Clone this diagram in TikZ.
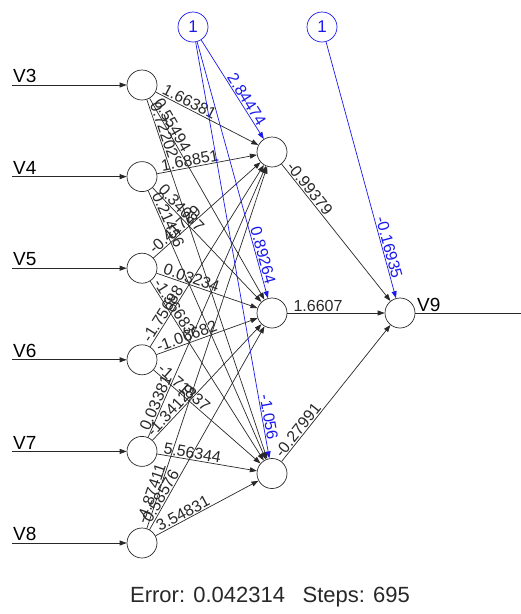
\documentclass[tikz,border=0pt]{standalone}
\usepackage{fontspec}
\setmainfont{Liberation Sans}
\usepackage{xcolor}
\usepackage{tikz}
\usetikzlibrary{arrows.meta, calc}
\definecolor{edgegray}{RGB}{40,40,40}
\definecolor{biasblue}{RGB}{25,25,235}
\tikzset{
  neuron/.style={circle, draw=edgegray, line width=0.7pt, minimum size=30pt, inner sep=0pt},
  biasnode/.style={neuron, draw=biasblue, text=biasblue, font=\fontsize{17}{17}\selectfont},
  arrow/.style={-{Triangle[length=7pt,width=5pt]}, edgegray, line width=0.7pt},
  biasarrow/.style={arrow, biasblue},
  weight/.style={pos=1, sloped, above, inner sep=1pt, text=edgegray, font=\fontsize{16}{16}\selectfont},
  biasweight/.style={weight, text=biasblue},
  varlabel/.style={anchor=south west, inner sep=0pt, font=\fontsize{19}{19}\selectfont},
}

\begin{document}
\begin{tikzpicture}[x=1pt, y=-1pt]
    \useasboundingbox (0,0) rectangle (521,614);

    % input layer
    \node[neuron] (i1) at (142,85) {};
    \node[neuron] (i2) at (142,176.6) {};
    \node[neuron] (i3) at (142,268.2) {};
    \node[neuron] (i4) at (142,359.8) {};
    \node[neuron] (i5) at (142,451.4) {};
    \node[neuron] (i6) at (142,543) {};
    \coordinate (s1) at (12,85);
    \coordinate (s2) at (12,176.6);
    \coordinate (s3) at (12,268.2);
    \coordinate (s4) at (12,359.8);
    \coordinate (s5) at (12,451.4);
    \coordinate (s6) at (12,543);
    \draw[arrow] (s1) -- (i1);
    \draw[arrow] (s2) -- (i2);
    \draw[arrow] (s3) -- (i3);
    \draw[arrow] (s4) -- (i4);
    \draw[arrow] (s5) -- (i5);
    \draw[arrow] (s6) -- (i6);
    \node[varlabel] (v3) at (13,83) {V3};
    \node[varlabel] (v4) at (13,174.6) {V4};
    \node[varlabel] (v5) at (13,266.2) {V5};
    \node[varlabel] (v6) at (13,357.8) {V6};
    \node[varlabel] (v7) at (13,449.4) {V7};
    \node[varlabel] (v8) at (13,541) {V8};

    % hidden and output layer
    \node[neuron] (h1) at (272,152) {};
    \node[neuron] (h2) at (272,313) {};
    \node[neuron] (h3) at (272,473.5) {};
    \node[neuron] (o) at (400,313) {};
    \node[varlabel] (v9) at (417,312) {V9};
    \coordinate (out) at (521,313);
    \draw[edgegray, line width=0.7pt] (o) -- (out);

    % bias nodes
    \node[biasnode] (b1) at (193,27) {1};
    \node[biasnode] (b2) at (322,27) {1};

    % input -> hidden
    \draw[arrow] (i1) -- (h1);
    \draw[arrow] (i1) -- (h2);
    \draw[arrow] (i1) -- (h3);
    \draw[arrow] (i2) -- (h1);
    \draw[arrow] (i2) -- (h2);
    \draw[arrow] (i2) -- (h3);
    \draw[arrow] (i3) -- (h1);
    \draw[arrow] (i3) -- (h2);
    \draw[arrow] (i3) -- (h3);
    \draw[arrow] (i4) -- (h1);
    \draw[arrow] (i4) -- (h2);
    \draw[arrow] (i4) -- (h3);
    \draw[arrow] (i5) -- (h1);
    \draw[arrow] (i5) -- (h2);
    \draw[arrow] (i5) -- (h3);
    \draw[arrow] (i6) -- (h1);
    \draw[arrow] (i6) -- (h2);
    \draw[arrow] (i6) -- (h3);
    \path (i1) -- ($(i1)!50pt!(h1)$) node[weight] {1.66381};
    \path (i1) -- ($(i1)!50pt!(h2)$) node[weight] {0.55494};
    \path (i1) -- ($(i1)!50pt!(h3)$) node[weight] {0.72202};
    \path (i2) -- ($(i2)!50pt!(h1)$) node[weight] {1.68851};
    \path (i2) -- ($(i2)!50pt!(h2)$) node[weight] {0.34087};
    \path (i2) -- ($(i2)!50pt!(h3)$) node[weight] {0.21456};
    \path (i3) -- ($(i3)!50pt!(h1)$) node[weight] {-0.41729};
    \path (i3) -- ($(i3)!50pt!(h2)$) node[weight] {0.03234};
    \path (i3) -- ($(i3)!50pt!(h3)$) node[weight] {-1.36683};
    \path (i4) -- ($(i4)!50pt!(h1)$) node[weight] {-1.75688};
    \path (i4) -- ($(i4)!50pt!(h2)$) node[weight] {-1.06682};
    \path (i4) -- ($(i4)!50pt!(h3)$) node[weight] {-1.71837};
    \path (i5) -- ($(i5)!50pt!(h1)$) node[weight] {0.03381};
    \path (i5) -- ($(i5)!50pt!(h2)$) node[weight] {-1.34129};
    \path (i5) -- ($(i5)!50pt!(h3)$) node[weight] {5.56344};
    \path (i6) -- ($(i6)!50pt!(h1)$) node[weight] {-4.87411};
    \path (i6) -- ($(i6)!50pt!(h2)$) node[weight] {0.58576};
    \path (i6) -- ($(i6)!50pt!(h3)$) node[weight] {3.54831};

    % hidden -> output
    \draw[arrow] (h1) -- (o);
    \draw[arrow] (h2) -- (o);
    \draw[arrow] (h3) -- (o);
    \path (h1) -- ($(h1)!52pt!(o)$) node[weight] {-0.99379};
    \path (h2) -- ($(h2)!46pt!(o)$) node[weight] {1.6607};
    \path (h3) -- ($(h3)!50pt!(o)$) node[weight] {-0.27991};

    % bias weights
    \draw[biasarrow] (b1) -- (h1);
    \draw[biasarrow] (b1) -- (h2);
    \draw[biasarrow] (b1) -- (h3);
    \draw[biasarrow] (b2) -- (o);
    \path (b1) -- ($(h1)!58pt!(b1)$) node[biasweight] {2.84474};
    \path (b1) -- ($(h2)!58pt!(b1)$) node[biasweight] {0.89264};
    \path (b1) -- ($(h3)!56pt!(b1)$) node[biasweight] {-1.056};
    \path (b2) -- ($(o)!66pt!(b2)$) node[biasweight] {-0.16935};

    \node[font=\fontsize{22}{22}\selectfont, text=edgegray] (info) at (270,597) {Error: 0.042314\hspace{0.8em}Steps: 695};
  \end{tikzpicture}
\end{document}
